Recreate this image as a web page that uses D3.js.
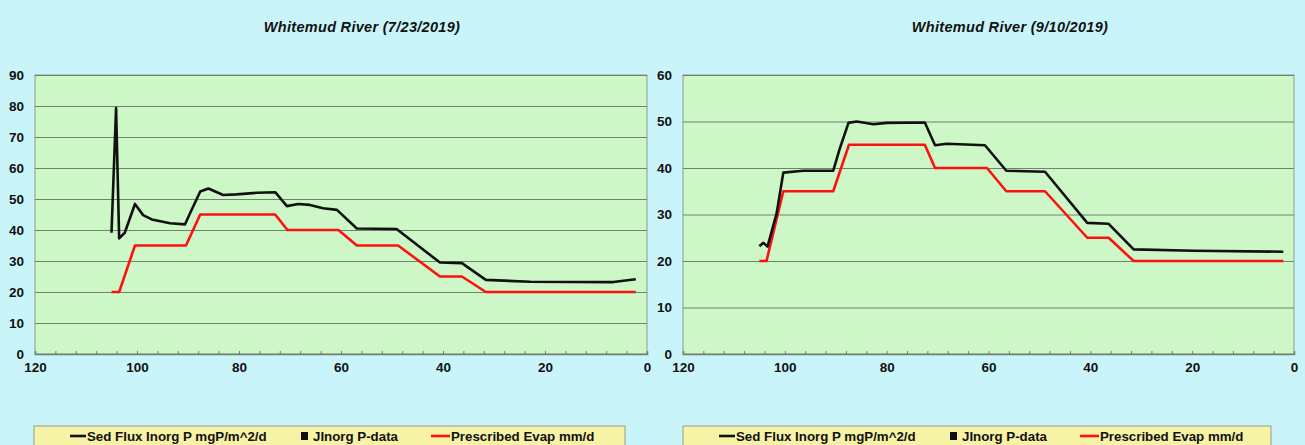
<!DOCTYPE html>
<html>
<head>
<meta charset="utf-8">
<script src="https://cdn.jsdelivr.net/npm/d3@7"></script>
<style>
  html, body { margin: 0; padding: 0; background: #c9f5fa; }
  svg { display: block; }
  text { font-family: "Liberation Sans", Arial, sans-serif; }
  .tick text { font-size: 13.5px !important; font-weight: bold; }
</style>
</head>
<body>
<svg id="chart" width="1305" height="445"></svg>
<script>
// ---------- data ----------
const titles = ["Whitemud River (7/23/2019)", "Whitemud River (9/10/2019)"];
const legendLabels = ["Sed Flux Inorg P mgP/m^2/d", "JInorg P-data", "Prescribed Evap mm/d"];
const xTicks = [120, 100, 80, 60, 40, 20, 0];
const yTicksLeft = [0, 10, 20, 30, 40, 50, 60, 70, 80, 90];
const yTicksRight = [0, 10, 20, 30, 40, 50, 60];

const fluxDaysA = [105, 104.1, 103.5, 102.4, 100.4, 98.8, 97.1, 93.5, 90.6, 89.6, 87.6, 86.0, 83.1, 80.5, 76.5, 72.9, 70.6, 68.4, 66.1, 63.5, 60.8, 56.9, 49.1, 40.6, 36.3, 31.6, 22.9, 6.6, 2.2];
const fluxValsA = [39.1, 79.3, 37.3, 39.1, 48.4, 44.8, 43.4, 42.2, 41.8, 45.4, 52.4, 53.4, 51.3, 51.5, 52.0, 52.2, 47.7, 48.4, 48.1, 47.0, 46.5, 40.5, 40.3, 29.5, 29.3, 23.9, 23.3, 23.2, 24.1];
const evapDaysA = [105, 103.5, 100.4, 90.4, 87.6, 72.9, 70.5, 60.5, 56.9, 48.8, 40.6, 36.3, 31.6, 2.2];
const evapValsA = [20, 20, 35, 35, 45, 45, 40, 40, 35, 35, 25, 25, 20, 20];

const fluxDaysB = [105.0, 104.2, 103.4, 101.6, 100.3, 96.4, 90.5, 89.2, 87.5, 85.9, 82.6, 80.0, 72.5, 70.5, 68.2, 60.7, 56.5, 48.9, 40.6, 36.4, 31.5, 19.7, 2.1];
const fluxValsB = [23.2, 23.9, 23.1, 30.3, 39.0, 39.4, 39.4, 44.2, 49.7, 50.0, 49.4, 49.7, 49.8, 44.9, 45.2, 44.9, 39.4, 39.2, 28.2, 28.0, 22.5, 22.2, 22.0];
const evapDaysB = [105, 103.6, 100.3, 90.5, 87.4, 72.5, 70.5, 60.3, 56.5, 48.9, 40.6, 36.4, 31.5, 2.1];
const evapValsB = [20, 20, 35, 35, 45, 45, 40, 40, 35, 35, 25, 25, 20, 20];

// ---------- drawing ----------
const svg = d3.select("#chart");
const FONT = "'Liberation Sans', Arial, sans-serif";
const panels = [
  { title: titles[0], x0: 35, x1: 647, yMax: 90, yTicks: yTicksLeft, titleX: 362, legX0: 34, legX1: 625,
    flux: d3.zip(fluxDaysA, fluxValsA), evap: d3.zip(evapDaysA, evapValsA) },
  { title: titles[1], x0: 683, x1: 1294, yMax: 60, yTicks: yTicksRight, titleX: 1010, legX0: 683, legX1: 1271,
    flux: d3.zip(fluxDaysB, fluxValsB), evap: d3.zip(evapDaysB, evapValsB) }
];
const yTop = 75, yBot = 354;

panels.forEach(p => {
  const g = svg.append("g");
  const x = d3.scaleLinear().domain([120, 0]).range([p.x0, p.x1]);
  const y = d3.scaleLinear().domain([0, p.yMax]).range([yBot, yTop]);

  // title
  g.append("text").attr("x", p.titleX).attr("y", 32).attr("text-anchor", "middle")
    .attr("font-size", 14.5).attr("font-weight", "bold").attr("font-style", "italic")
    .attr("letter-spacing", 0.3).attr("fill", "#111").text(p.title);

  // plot area
  g.append("rect").attr("x", p.x0).attr("y", yTop).attr("width", p.x1 - p.x0).attr("height", yBot - yTop)
    .attr("fill", "#cdf7c6").attr("stroke", "#8c9c8c").attr("stroke-width", 1);

  // gridlines
  const grid = g.append("g").attr("transform", `translate(${p.x0},0)`)
    .call(d3.axisLeft(y).tickValues(p.yTicks).tickSize(-(p.x1 - p.x0)).tickFormat(""));
  grid.select(".domain").remove();
  grid.selectAll("line").attr("stroke", "#6f836f").attr("stroke-width", 1);

  // y labels
  const yAx = g.append("g").attr("transform", `translate(${p.x0},0)`)
    .call(d3.axisLeft(y).tickValues(p.yTicks).tickSize(0).tickPadding(11).tickFormat(d3.format("d")));
  yAx.select(".domain").remove();
  yAx.attr("font-size", 13.5).attr("font-family", FONT);
  yAx.selectAll("text").style("font-size", "13.5px").style("font-weight", "bold").attr("fill", "#111");

  // x axis: minor ticks (inside) + labels
  const minor = d3.range(0, 121, 4);
  const xMinor = g.append("g").attr("transform", `translate(0,${yBot})`)
    .call(d3.axisTop(x).tickValues(minor).tickSize(3).tickFormat(""));
  xMinor.select(".domain").attr("stroke", "#6f7f6f").attr("stroke-width", 1.5);
  xMinor.selectAll("line").attr("stroke", "#6f7f6f");

  const xAx = g.append("g").attr("transform", `translate(0,${yBot})`)
    .call(d3.axisBottom(x).tickValues(xTicks).tickSize(0).tickPadding(8).tickFormat(d3.format("d")));
  xAx.select(".domain").remove();
  xAx.attr("font-size", 13.5).attr("font-family", FONT);
  xAx.selectAll("text").style("font-size", "13.5px").style("font-weight", "bold").attr("fill", "#111");

  const line = d3.line().x(d => x(d[0])).y(d => y(d[1]));
  g.append("path").datum(p.evap).attr("d", line).attr("fill", "none")
    .attr("stroke", "#ff1010").attr("stroke-width", 2.6).attr("stroke-linejoin", "round");
  g.append("path").datum(p.flux).attr("d", line).attr("fill", "none")
    .attr("stroke", "#111").attr("stroke-width", 2.6).attr("stroke-linejoin", "round");

  // legend
  const lg = g.append("g");
  lg.append("rect").attr("x", p.legX0).attr("y", 426).attr("width", p.legX1 - p.legX0).attr("height", 30)
    .attr("fill", "#f6f2a6").attr("stroke", "#9a9a80").attr("stroke-width", 1);
  const ly = 436;
  const off = p.legX0 - 34;
  lg.append("line").attr("x1", 70 + off).attr("x2", 86 + off).attr("y1", ly).attr("y2", ly)
    .attr("stroke", "#111").attr("stroke-width", 2.6);
  lg.append("text").attr("x", 87 + off).attr("y", ly + 5).attr("font-size", 13.3).attr("font-weight", "bold")
    .attr("fill", "#111").text(legendLabels[0]);
  lg.append("rect").attr("x", 301 + off).attr("y", ly - 4).attr("width", 7).attr("height", 8).attr("fill", "#111");
  lg.append("text").attr("x", 313 + off).attr("y", ly + 5).attr("font-size", 13.3).attr("font-weight", "bold")
    .attr("fill", "#111").text(legendLabels[1]);
  lg.append("line").attr("x1", 431 + off).attr("x2", 450 + off).attr("y1", ly).attr("y2", ly)
    .attr("stroke", "#ff1010").attr("stroke-width", 2.6);
  lg.append("text").attr("x", 451 + off).attr("y", ly + 5).attr("font-size", 13.3).attr("font-weight", "bold")
    .attr("fill", "#111").text(legendLabels[2]);
});
</script>
</body>
</html>
